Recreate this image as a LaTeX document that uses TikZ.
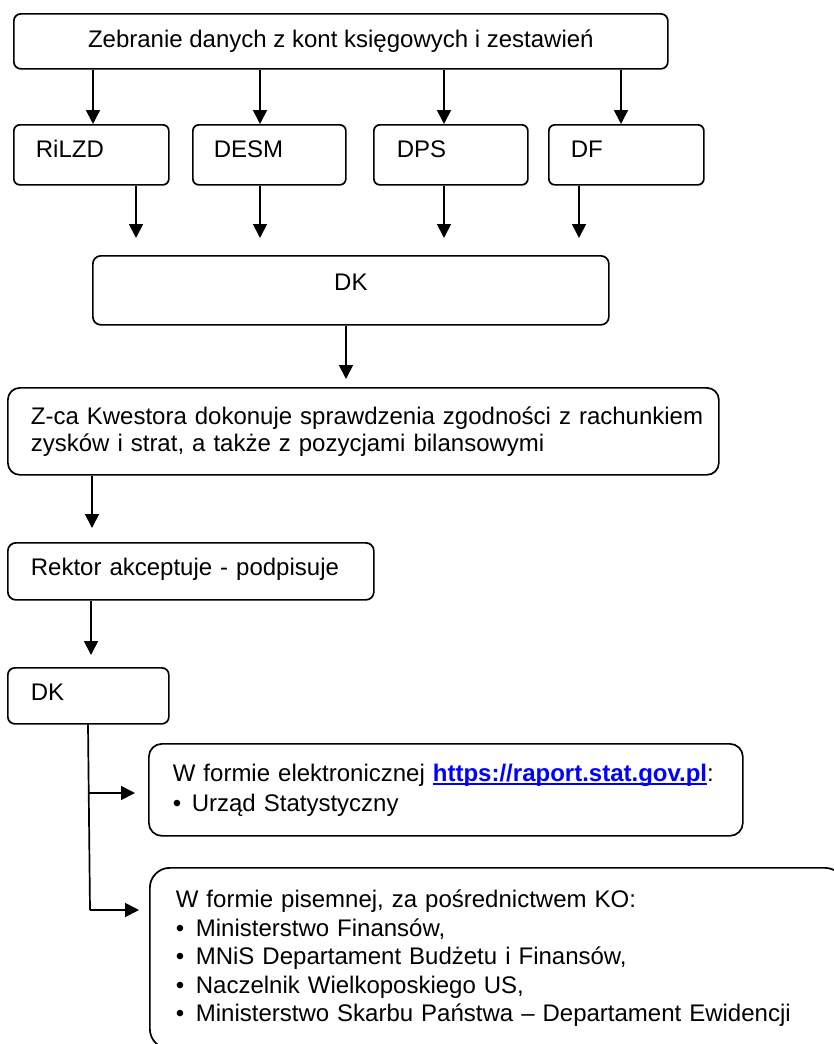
\documentclass[tikz,border=0pt]{standalone}
\usepackage{fontspec}
\setmainfont{Liberation Sans}
\usetikzlibrary{arrows.meta}
\definecolor{linkblue}{RGB}{0,0,255}
\newcommand\ulnk[1]{\setbox0\hbox{#1}\rlap{\rule[-4pt]{\wd0}{1.8pt}}\box0}
\newcommand\bul[1]{\makebox[#1][l]{•}}
\begin{document}
\begin{tikzpicture}[x=1pt,y=-1pt,
  box/.style={draw, line width=1.7pt, anchor=north west, inner ysep=0pt, font=\fontsize{24}{27}\selectfont},
  arr/.style={line width=1.7pt, -{Triangle[length=14pt,width=14pt]}},
  ln/.style={line width=1.7pt}]
\useasboundingbox (0,0) rectangle (834,1044);
\clip (0,0) rectangle (834,1044);

\node[box, rounded corners=7pt, minimum width=654pt, inner xsep=0pt, text height=34pt, text depth=21pt] (top) at (13,13) {Zebranie danych z kont księgowych i zestawień};

\node[box, rounded corners=6pt, text width=111pt, inner xsep=22pt, align=left, text height=33pt, text depth=27pt] (rilzd) at (13,124) {RiLZD};
\node[box, rounded corners=6pt, text width=111pt, inner xsep=21pt, align=left, text height=33pt, text depth=27pt] (desm) at (192,124) {DESM};
\node[box, rounded corners=6pt, text width=108pt, inner xsep=23pt, align=left, text height=33pt, text depth=27pt] (dps) at (373,124) {DPS};
\node[box, rounded corners=6pt, text width=111pt, inner xsep=22pt, align=left, text height=33pt, text depth=27pt] (df) at (548,124) {DF};

\node[box, rounded corners=8pt, minimum width=516pt, inner xsep=0pt, text height=35pt, text depth=34pt] (dk1) at (92,255) {DK};

\node[box, rounded corners=12pt, text width=665pt, inner xsep=23pt, align=left, minimum height=87pt] (zk) at (7,387)
  {\mbox{Z-ca Kwestora dokonuje sprawdzenia zgodności z rachunkiem}\\\mbox{zysków i strat, a także z pozycjami bilansowymi}};

\node[box, rounded corners=8pt, text width=320pt, inner xsep=23pt, align=left, text height=33pt, text depth=24pt] (rek) at (7,542) {Rektor akceptuje - podpisuje};

\node[box, rounded corners=7pt, text width=115pt, inner xsep=23pt, align=left, text height=33pt, text depth=23pt] (dk2) at (7,667) {DK};

\node[box, rounded corners=13pt, text width=546pt, inner xsep=24pt, align=left, minimum height=92pt, font=\fontsize{24}{30}\selectfont] (elec) at (148,743)
  {\mbox{W formie elektronicznej \textcolor{linkblue}{\bfseries\ulnk{https://raport.stat.gov.pl}}:}\\\mbox{\bul{19pt}Urząd Statystyczny}};

\node[box, rounded corners=20pt, text width=643pt, inner xsep=26pt, align=left, minimum height=181pt, font=\fontsize{24}{28.4}\selectfont] (written) at (149,867)
  {\mbox{W formie pisemnej, za pośrednictwem KO:}\\
   \mbox{\bul{20pt}Ministerstwo Finansów,}\\
   \mbox{\bul{20pt}MNiS Departament Budżetu i Finansów,}\\
   \mbox{\bul{20pt}Naczelnik Wielkoposkiego US,}\\
   \mbox{\bul{20pt}Ministerstwo Skarbu Państwa – Departament Ewidencji}};

\draw[arr] (93,0 |- top.south) -- (93,0 |- rilzd.north);
\draw[arr] (260,0 |- top.south) -- (260,0 |- desm.north);
\draw[arr] (444,0 |- top.south) -- (444,0 |- dps.north);
\draw[arr] (621,0 |- top.south) -- (621,0 |- df.north);

\draw[arr, shorten >=17pt] (136,0 |- rilzd.south) -- (136,0 |- dk1.north);
\draw[arr, shorten >=17pt] (260,0 |- desm.south) -- (260,0 |- dk1.north);
\draw[arr, shorten >=17pt] (444,0 |- dps.south) -- (444,0 |- dk1.north);
\draw[arr, shorten >=17pt] (579,0 |- df.south) -- (579,0 |- dk1.north);

\draw[arr, shorten >=8pt] (346,0 |- dk1.south) -- (346,0 |- zk.north);
\draw[arr, shorten >=14pt] (92,0 |- zk.south) -- (92,0 |- rek.north);
\draw[arr, shorten >=12pt] (91,0 |- rek.south) -- (91,0 |- dk2.north);

\coordinate (ja) at (89,793);
\coordinate (jb) at (90,910);
\draw[ln] (88,0 |- dk2.south) -- (jb);
\draw[arr, shorten >=10pt] (jb) -- (jb -| written.west);
\draw[arr, shorten >=13pt] (ja) -- (ja -| elec.west);
\end{tikzpicture}
\end{document}
